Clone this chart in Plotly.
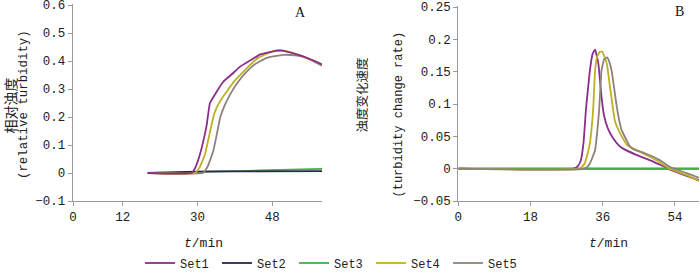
import plotly.graph_objects as go

W, H = 700, 275

series_names = ["Set1", "Set2", "Set3", "Set4", "Set5"]
colors = ["#8C2D8E", "#2C2550", "#3DB43D", "#BFB022", "#8E827D"]

# Panel A: relative turbidity
a_t = {
    "Set1": [18, 28.6, 29.5, 30.6, 31.5, 32.2, 33.0, 34.6, 36.2, 38.6, 40.2, 43.4, 45, 47.5, 49.9, 52, 54.7, 57, 60],
    "Set2": [18, 24, 30, 45, 60],
    "Set3": [18, 30, 40, 50, 60],
    "Set4": [18, 29.4, 30.5, 31.8, 33.2, 34.0, 35.0, 37.0, 39.0, 41.8, 44.5, 47.5, 49.5, 52, 54.7, 57, 60],
    "Set5": [18, 31.3, 32.5, 33.8, 34.8, 35.5, 36.5, 37.8, 39.5, 41.8, 44, 46.7, 50.7, 53.5, 56.3, 60],
}
a_v = {
    "Set1": [0, 0, 0.02, 0.067, 0.12, 0.17, 0.25, 0.29, 0.326, 0.357, 0.379, 0.408, 0.423, 0.432, 0.437, 0.432, 0.42, 0.407, 0.388],
    "Set2": [0, 0.002, 0.005, 0.006, 0.007],
    "Set3": [0, 0.004, 0.007, 0.011, 0.015],
    "Set4": [0, 0, 0.02, 0.067, 0.16, 0.21, 0.245, 0.29, 0.33, 0.373, 0.41, 0.432, 0.44, 0.433, 0.42, 0.407, 0.388],
    "Set5": [0, 0, 0.025, 0.079, 0.149, 0.2, 0.24, 0.279, 0.32, 0.361, 0.39, 0.411, 0.422, 0.42, 0.411, 0.383],
}

# Panel B: turbidity change rate
b_t = {
    "Set1": [0, 28.7, 29.8, 30.5, 31.2, 31.8, 32.8, 33.5, 34.1, 34.9, 35.7, 36.3, 37.3, 38.6, 40, 41.1, 44.5, 48.6, 52.7, 56.9, 60],
    "Set2": [0, 60],
    "Set3": [0, 60],
    "Set4": [0, 30.3, 31.5, 32.3, 32.8, 33.6, 34.1, 34.6, 35.3, 35.9, 37, 37.8, 39, 39.9, 42, 45.3, 49.4, 52.7, 56.9, 60],
    "Set5": [0, 31.6, 32.8, 33.6, 34.1, 34.6, 35.1, 35.7, 36.4, 37.1, 37.6, 38.2, 39.5, 40.1, 40.7, 42.8, 44, 46.1, 50.3, 52.7, 56.9, 60],
}
b_v = {
    "Set1": [0, 0, 0.004, 0.012, 0.039, 0.09, 0.152, 0.178, 0.184, 0.163, 0.111, 0.083, 0.062, 0.047, 0.036, 0.031, 0.021, 0.011, -0.001, -0.011, -0.018],
    "Set2": [0, 0],
    "Set3": [0, 0],
    "Set4": [0, 0, 0.008, 0.025, 0.039, 0.09, 0.152, 0.173, 0.181, 0.181, 0.163, 0.127, 0.075, 0.06, 0.037, 0.026, 0.013, 0.0, -0.01, -0.019],
    "Set5": [0, 0, 0.008, 0.02, 0.029, 0.055, 0.09, 0.152, 0.17, 0.172, 0.166, 0.152, 0.096, 0.075, 0.06, 0.034, 0.029, 0.025, 0.013, 0.003, -0.007, -0.014],
}

a_xticks = [0, 12, 30, 48]
b_xticks = [0, 18, 36, 54]
a_yticks = [-0.1, 0, 0.1, 0.2, 0.3, 0.4, 0.5, 0.6]
a_yticktext = ["−0.1", "0", "0.1", "0.2", "0.3", "0.4", "0.5", "0.6"]
b_yticks = [-0.05, 0, 0.05, 0.1, 0.15, 0.2, 0.25]
b_yticktext = ["−0.05", "0", "0.05", "0.1", "0.15", "0.2", "0.25"]

MONO = "Liberation Mono, Courier New, monospace"
CJK = "Noto Sans CJK SC"
SERIF = "Liberation Serif, serif"

fig = go.Figure()

LINE_SHAPE = dict(width=1.8, shape="spline", smoothing=0.35)

# Panel A traces (draw purple on top)
for name in ["Set3", "Set2", "Set5", "Set4", "Set1"]:
    i = series_names.index(name)
    fig.add_trace(go.Scatter(x=a_t[name], y=a_v[name], mode="lines", name=name,
                             line=dict(color=colors[i], **LINE_SHAPE),
                             xaxis="x", yaxis="y", showlegend=False, hoverinfo="skip"))
# Panel B traces
for i, name in enumerate(series_names):
    fig.add_trace(go.Scatter(x=b_t[name], y=b_v[name], mode="lines", name=name,
                             line=dict(color=colors[i], **LINE_SHAPE),
                             xaxis="x2", yaxis="y2", showlegend=True, hoverinfo="skip"))

axis_common = dict(showgrid=False, zeroline=False, showline=True, linecolor="#9a9a9a",
                   linewidth=1.3, ticks="outside", ticklen=4, tickcolor="#9a9a9a",
                   automargin=False, ticklabeloverflow="allow",
                   tickfont=dict(family=MONO, size=12.5, color="#222"))

def px(x):
    return x / W

def py(y):
    return 1 - y / H

fig.update_layout(
    width=W, height=H,
    margin=dict(l=0, r=0, t=0, b=0, autoexpand=False),
    paper_bgcolor="white", plot_bgcolor="white",
    xaxis=dict(domain=[px(73), px(322)], range=[0, 60.0001], tickvals=a_xticks, anchor="y", **axis_common),
    yaxis=dict(domain=[py(201), py(3.6)], range=[-0.1, 0.605], tickvals=a_yticks, ticktext=a_yticktext, anchor="x", **axis_common),
    xaxis2=dict(domain=[px(458.3), px(699)], range=[0, 60.0001], tickvals=b_xticks, anchor="y2", **axis_common),
    yaxis2=dict(domain=[py(201), py(6.4)], range=[-0.05, 0.251], tickvals=b_yticks, ticktext=b_yticktext, anchor="x2", **axis_common),
    legend=dict(orientation="h", x=px(140), xanchor="left", y=py(263), yanchor="middle",
                font=dict(family=MONO, size=12, color="#222"), bgcolor="rgba(0,0,0,0)",
                entrywidth=32, entrywidthmode="pixels", itemwidth=30),
    showlegend=True,
)

annots = [
    dict(x=px(300), y=py(12), text="A", font=dict(family=SERIF, size=14, color="#111")),
    dict(x=px(679), y=py(11), text="B", font=dict(family=SERIF, size=14, color="#111")),
    dict(x=px(203), y=py(243), text="<i>t</i>/min", font=dict(family=MONO, size=13, color="#222")),
    dict(x=px(608), y=py(243), text="<i>t</i>/min", font=dict(family=MONO, size=13, color="#222")),
    dict(x=px(9.5), y=py(106), text="相对浊度", textangle=-90, font=dict(family=CJK, size=14, color="#222")),
    dict(x=px(24), y=py(105), text="(relative turbidity)", textangle=-90, font=dict(family=MONO, size=12.4, color="#222")),
    dict(x=px(360.5), y=py(95), text="浊度变化速度", textangle=-90, font=dict(family=CJK, size=12.5, color="#222")),
    dict(x=px(398), y=py(114.5), text="(turbidity change rate)", textangle=-90, font=dict(family=MONO, size=12, color="#222")),
]
for a in annots:
    fig.add_annotation(xref="paper", yref="paper", showarrow=False, xanchor="center", yanchor="middle", **a)

fig.write_html("out.html", config={"displayModeBar": False},
               post_script="document.body.style.margin='0';document.body.style.overflow='hidden';")
